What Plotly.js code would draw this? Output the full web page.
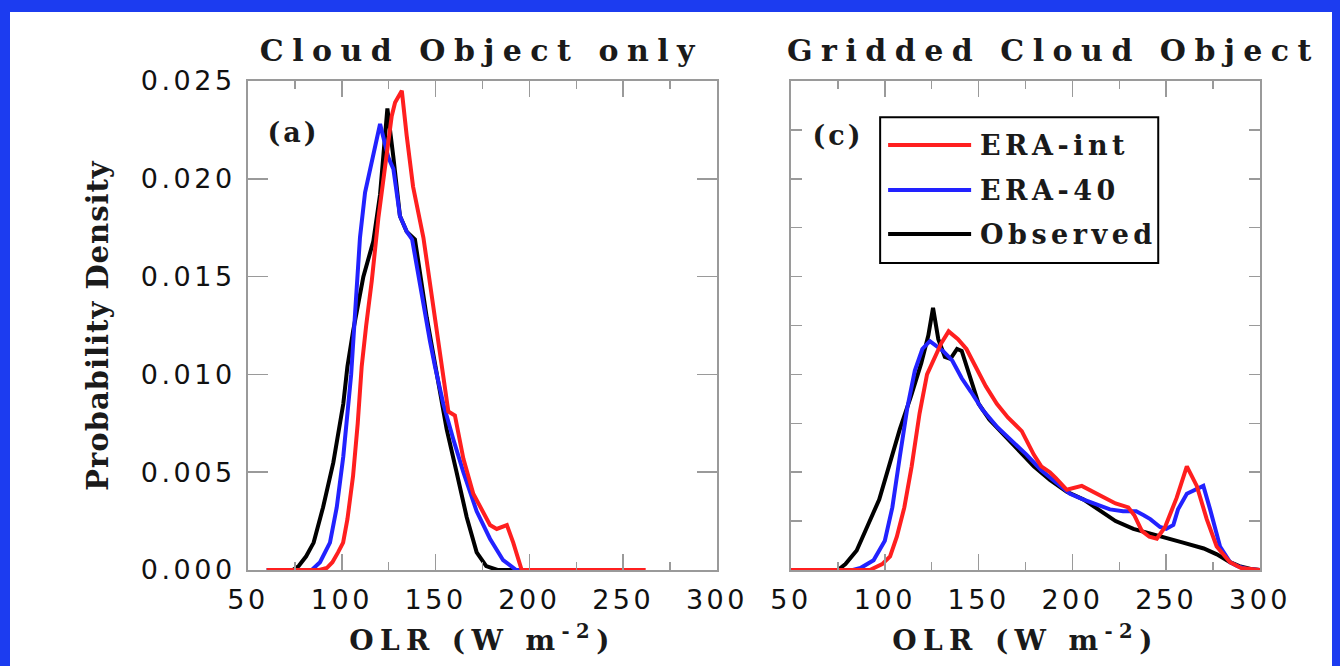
<!DOCTYPE html>
<html>
<head>
<meta charset="utf-8">
<script src="https://cdn.plot.ly/plotly-3.0.1.min.js"></script>
<style>
  html, body { margin: 0; padding: 0; background: #1c3cf0; width: 1340px; height: 666px; overflow: hidden; }
  #plot { position: absolute; left: 10px; top: 12px; width: 1322px; height: 654px; background: #fff; }
  .xtick text, .x2tick text, .ytick text { letter-spacing: 3.5px; }
  text.xtitle, text.x2title { letter-spacing: 6.4px; }
  text.ytitle { letter-spacing: 1px; }
  g.annotation[data-index="0"] text, g.annotation[data-index="1"] text { letter-spacing: 8.5px; }
  g.annotation[data-index="2"] text, g.annotation[data-index="3"] text { letter-spacing: 3px; }
  g.annotation[data-index="4"] text, g.annotation[data-index="5"] text, g.annotation[data-index="6"] text { letter-spacing: 4.5px; }
</style>
</head>
<body>
<div id="plot"></div>
<script>
// ---------- DATA ----------
const panelTitles = ["Cloud Object only", "Gridded Cloud Object"];
const panelLabels = ["(a)", "(c)"];
const seriesNames = ["ERA-int", "ERA-40", "Observed"];
const xTickVals = [50, 100, 150, 200, 250, 300];

// Panel (a): Cloud Object only
const leftEraIntX = [60, 88, 92, 95, 98, 100.7, 103, 106, 108.5, 110.6, 113, 116, 119.5, 123, 126.6, 128.4, 132, 134.6, 138, 143.5, 148.8, 154, 156.8, 160.3, 164.8, 170.1, 175, 179, 182.6, 186, 188, 191.4, 195.9, 262];
const leftEraIntY = [0, 0, 0.0001, 0.0004, 0.0009, 0.0014, 0.0026, 0.0048, 0.0075, 0.0104, 0.0125, 0.0148, 0.0180, 0.0205, 0.0232, 0.0239, 0.0245, 0.0222, 0.0196, 0.0170, 0.0134, 0.0102, 0.0081, 0.0079, 0.0057, 0.0039, 0.0030, 0.0023, 0.0021, 0.0022, 0.0023, 0.0014, 0, 0];

const leftEra40X = [60, 84, 88.4, 93.7, 97.3, 100.8, 103, 105, 107, 109.7, 112.4, 115.9, 120.4, 124.8, 127.5, 131, 134.6, 137.5, 141.6, 143.5, 147, 149.7, 154.1, 159.4, 164.8, 171.9, 179, 186, 193, 200];
const leftEra40Y = [0, 0, 0.0004, 0.0014, 0.0032, 0.0058, 0.0080, 0.0100, 0.0130, 0.0170, 0.0193, 0.0208, 0.0228, 0.0211, 0.0205, 0.0181, 0.0173, 0.0169, 0.0146, 0.0136, 0.0117, 0.0104, 0.0085, 0.0067, 0.0050, 0.0030, 0.0016, 0.0005, 0, 0];

const leftObsX = [60, 74, 77, 81, 85, 90, 95.5, 100.8, 103, 106, 111.5, 116.8, 120.4, 123, 124.3, 127.5, 131, 134.6, 139, 145.3, 150.6, 155.9, 161.2, 166.6, 171.9, 177, 183, 200];
const leftObsY = [0, 0, 0.0002, 0.0007, 0.0014, 0.0032, 0.0055, 0.0085, 0.0104, 0.0122, 0.0150, 0.0168, 0.0192, 0.0218, 0.0236, 0.0211, 0.0181, 0.0173, 0.0169, 0.0129, 0.0099, 0.0072, 0.0050, 0.0027, 0.0009, 0.0002, 0, 0];

// Panel (c): Gridded Cloud Object
const rightEraIntX = [50, 92, 98.6, 102.8, 106.4, 110.4, 114.3, 118.5, 122.5, 126.5, 130.1, 134, 139, 143.5, 147.9, 153.8, 159.7, 165.6, 173, 179.4, 183.4, 188, 191.2, 197, 205, 211, 216, 223, 229.8, 233, 237, 241, 245, 249.4, 255.6, 261, 266.3, 271.6, 276.9, 284, 290, 300];
const rightEraIntY = [0, 0, 0.0003, 0.0007, 0.0017, 0.0032, 0.0053, 0.0080, 0.0100, 0.0108, 0.0116, 0.0122, 0.0118, 0.0113, 0.0105, 0.0094, 0.0085, 0.0078, 0.0071, 0.0059, 0.0053, 0.0050, 0.0047, 0.0041, 0.0043, 0.0040, 0.0037, 0.0034, 0.0032, 0.0028, 0.0020, 0.0017, 0.0016, 0.0022, 0.0037, 0.0053, 0.0043, 0.0026, 0.0012, 0.0004, 0.0001, 0];

const rightEra40X = [50, 83, 87, 94, 100, 104, 108, 112, 116, 120, 124, 127, 131, 136, 141, 146, 152, 160, 168, 175.5, 183.4, 191.2, 198.7, 206, 214, 220, 227, 234, 238, 241.5, 246.7, 250, 253.8, 256.3, 261, 266, 269.8, 273.4, 278.7, 284, 288, 293, 300];
const rightEra40Y = [0, 0, 0.0001, 0.0005, 0.0015, 0.0032, 0.0058, 0.0083, 0.0102, 0.0113, 0.0117, 0.0115, 0.0112, 0.0107, 0.0098, 0.0091, 0.0082, 0.0073, 0.0066, 0.0059, 0.0051, 0.0045, 0.0039, 0.0036, 0.0033, 0.0031, 0.0030, 0.0030, 0.0028, 0.0026, 0.0022, 0.0021, 0.0023, 0.0031, 0.0039, 0.0041, 0.0043, 0.0031, 0.0012, 0.0004, 0.0002, 0.00005, 0];

const rightObsX = [50, 75, 79, 85, 91, 97, 102.5, 108, 114, 119.5, 123.2, 125.7, 128.5, 132, 135, 138.5, 141, 144.5, 150, 155.7, 163.6, 171.5, 179.4, 188, 197, 206, 215, 223, 232.5, 246.7, 259, 270, 277, 284, 289, 295, 300];
const rightObsY = [0, 0, 0.0003, 0.0010, 0.0023, 0.0036, 0.0054, 0.0072, 0.0089, 0.0106, 0.0120, 0.0134, 0.0118, 0.0109, 0.0108, 0.0113, 0.0112, 0.0102, 0.0085, 0.0077, 0.0069, 0.0061, 0.0053, 0.0046, 0.0040, 0.0036, 0.0030, 0.0025, 0.0021, 0.0017, 0.0014, 0.0011, 0.0008, 0.0004, 0.0002, 0.00005, 0];

// ---------- STYLE ----------
const colors = { "ERA-int": "#ff1f1f", "ERA-40": "#2222ff", "Observed": "#000000" };
const lineW = 4;
const axisGray = "#9a9a9a";
const tickFont = { family: "DejaVu Sans", size: 27, color: "#111" };
const serif = "DejaVu Serif";
const headFont = (size) => ({ family: serif, size: size, color: "#1a1a1a", weight: "bold" });

function tr(x, y, name, xa, ya) {
  return { x: x, y: y, name: name, type: "scatter", mode: "lines", xaxis: xa, yaxis: ya,
           line: { color: colors[name], width: lineW }, showlegend: false, hoverinfo: "skip" };
}

// draw order: Observed, ERA-40, ERA-int on top
const data = [
  tr(leftObsX, leftObsY, "Observed", "x", "y"),
  tr(leftEra40X, leftEra40Y, "ERA-40", "x", "y"),
  tr(leftEraIntX, leftEraIntY, "ERA-int", "x", "y"),
  tr(rightObsX, rightObsY, "Observed", "x2", "y2"),
  tr(rightEra40X, rightEra40Y, "ERA-40", "x2", "y2"),
  tr(rightEraIntX, rightEraIntY, "ERA-int", "x2", "y2")
];

function xAxis(domain, anchor) {
  return {
    domain: domain, anchor: anchor, range: [50, 300], fixedrange: true,
    showline: true, linecolor: axisGray, linewidth: 2, mirror: "ticks",
    ticks: "inside", ticklen: 16, tickwidth: 1.5, tickcolor: axisGray,
    tickvals: xTickVals, ticktext: xTickVals.map(String),
    minor: { dtick: 25, tick0: 50, ticks: "inside", ticklen: 8, tickwidth: 1.5, tickcolor: axisGray, showgrid: false },
    showgrid: false, zeroline: false, tickfont: tickFont, ticklabelstandoff: 5,
    title: { text: "OLR (W m<sup>-2</sup>)", font: headFont(28), standoff: 16 }
  };
}

const layout = {
  width: 1322, height: 654,
  margin: { l: 238, r: 72, t: 69, b: 96 },
  paper_bgcolor: "#ffffff", plot_bgcolor: "#ffffff",
  showlegend: false,
  xaxis: xAxis([0, 0.4634], "y"),
  xaxis2: xAxis([0.5366, 1], "y2"),
  yaxis: {
    domain: [0, 1], anchor: "x", range: [0, 0.025], fixedrange: true,
    showline: true, linecolor: axisGray, linewidth: 2, mirror: "ticks",
    ticks: "inside", ticklen: 20, tickwidth: 1.5, tickcolor: axisGray,
    dtick: 0.005, tick0: 0, tickformat: ".3f",
    showgrid: false, zeroline: false, tickfont: tickFont, ticklabelstandoff: 5,
    title: { text: "Probability Density", font: headFont(29), standoff: 24 }
  },
  yaxis2: {
    domain: [0, 1], anchor: "x2", range: [0, 0.025], fixedrange: true,
    showline: true, linecolor: axisGray, linewidth: 2, mirror: "ticks",
    ticks: "inside", ticklen: 11, tickwidth: 1.5, tickcolor: axisGray,
    dtick: 0.0025, tick0: 0, showticklabels: false,
    showgrid: false, zeroline: false
  },
  annotations: [
    { text: panelTitles[0], xref: "paper", yref: "paper", x: 0.2312, y: 1.063, xanchor: "center", yanchor: "middle",
      showarrow: false, font: headFont(30) },
    { text: panelTitles[1], xref: "paper", yref: "paper", x: 0.7964, y: 1.063, xanchor: "center", yanchor: "middle",
      showarrow: false, font: headFont(30) },
    { text: panelLabels[0], xref: "x domain", yref: "y domain", x: 0.096, y: 0.894, xanchor: "center", yanchor: "middle",
      showarrow: false, font: headFont(27) },
    { text: panelLabels[1], xref: "x2 domain", yref: "y2 domain", x: 0.100, y: 0.888, xanchor: "center", yanchor: "middle",
      showarrow: false, font: headFont(27) },
    { text: seriesNames[0], xref: "x2 domain", yref: "y2 domain", x: 0.399, y: 0.869, xanchor: "left", yanchor: "middle",
      align: "left", showarrow: false, font: headFont(27) },
    { text: seriesNames[1], xref: "x2 domain", yref: "y2 domain", x: 0.399, y: 0.777, xanchor: "left", yanchor: "middle",
      align: "left", showarrow: false, font: headFont(27) },
    { text: seriesNames[2], xref: "x2 domain", yref: "y2 domain", x: 0.399, y: 0.687, xanchor: "left", yanchor: "middle",
      align: "left", showarrow: false, font: headFont(27) }
  ],
  shapes: [
    { type: "rect", xref: "x2 domain", yref: "y2 domain", x0: 0.190, x1: 0.783, y0: 0.628, y1: 0.926,
      line: { color: "#000", width: 2 }, fillcolor: "rgba(0,0,0,0)" },
    { type: "line", xref: "x2 domain", yref: "y2 domain", x0: 0.207, x1: 0.384, y0: 0.869, y1: 0.869,
      line: { color: colors["ERA-int"], width: lineW } },
    { type: "line", xref: "x2 domain", yref: "y2 domain", x0: 0.207, x1: 0.384, y0: 0.777, y1: 0.777,
      line: { color: colors["ERA-40"], width: lineW } },
    { type: "line", xref: "x2 domain", yref: "y2 domain", x0: 0.207, x1: 0.384, y0: 0.687, y1: 0.687,
      line: { color: colors["Observed"], width: lineW } }
  ]
};

Plotly.newPlot("plot", data, layout, { staticPlot: true, displayModeBar: false });
</script>
</body>
</html>
